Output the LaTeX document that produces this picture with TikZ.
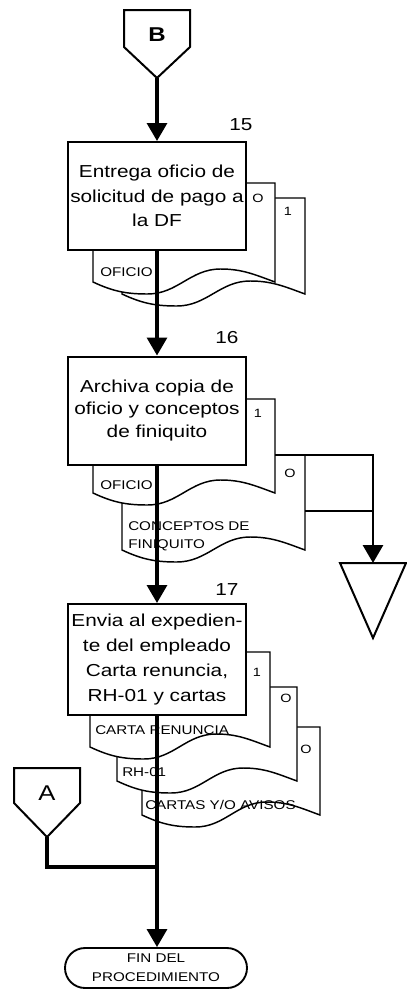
\documentclass[tikz,border=0pt]{standalone}
\usepackage{fontspec}
\setmainfont{Liberation Sans}[FakeStretch=1.2]
\usetikzlibrary{arrows.meta,shapes.misc}

\newcommand\mydoc[4]{% xl, yt, xr, yb (reference pixels, y downwards)
  \pgfmathsetmacro\dw{#3-#1}
  \draw[docline] (#1,-#2) -- (#1,-#4) to[out=-25,in=180] ({#1+0.3*\dw},{-#4-12})
    to[out=0,in=180] ({#1+0.7*\dw},{-#4+13}) to[out=0,in=160] (#3,-#4) -- (#3,-#2) -- cycle;}

\begin{document}
\begin{tikzpicture}[x=0.75pt,y=0.75pt,
  flow/.style={line width=2.4pt,-{Triangle[width=15pt,length=13.5pt]}},
  plain/.style={line width=2.4pt},
  box/.style={draw,line width=1.5pt,fill=white,minimum width=133.5pt,minimum height=81pt,
    align=center,inner sep=0pt,font=\fontsize{13}{18.4}\selectfont},
  docline/.style={draw,line width=1.1pt,fill=white},
  doctext/.style={font=\fontsize{9.5}{13.5}\selectfont,anchor=west,inner sep=0pt,align=left},
  copylab/.style={font=\fontsize{9}{10}\selectfont,inner sep=0pt},
  num/.style={font=\fontsize{13}{15}\selectfont,inner sep=0pt},
  conn/.style={draw,line width=1.5pt,fill=white},
  term/.style={draw,rounded rectangle,line width=1.4pt,minimum width=136.5pt,minimum height=30pt,
    align=center,inner sep=0pt,font=\fontsize{9.5}{14}\selectfont},
  filetri/.style={draw,line width=1.5pt}]
\useasboundingbox (0,0) rectangle (407,-989);

% connector B
\draw[conn] (124,-10) -- (190,-10) -- (190,-47) -- (157,-78) -- (124,-47) -- cycle;
\node[font=\bfseries\fontsize{15}{15}\selectfont] (B) at (157,-35) {B};
\coordinate (Btip) at (157,-78);

% step 15 documents
\mydoc{122}{198}{305}{294}
\node[copylab] (c15b) at (288,-211) {1};
\mydoc{93}{183}{275}{282}
\node[doctext] (d15a) at (100,-272) {OFICIO};
\node[copylab] (c15a) at (258,-198) {O};
\node[box] (s15) at (157,-196) {Entrega oficio de\\solicitud de pago a\\la DF};
\node[num] (n15) at (241,-125) {15};

% step 16 documents
\mydoc{122}{455}{305}{550}
\node[doctext] (d16b) at (128,-536) {CONCEPTOS DE\\FINIQUITO};
\node[copylab] (c16b) at (290,-473) {O};
\mydoc{93}{399}{275}{493}
\node[doctext] (d16a) at (100,-485) {OFICIO};
\node[copylab] (c16a) at (258,-413) {1};
\node[box,font=\fontsize{13}{17.2}\selectfont] (s16) at (157,-410.5) {Archiva copia de\\oficio y conceptos\\de finiquito};
\node[num] (n16) at (227,-338) {16};

% file (archive) symbol
\coordinate (ftop) at (275,-455);
\coordinate (fside) at (305,-511);
\coordinate (archivo) at (373,-563);
\draw[filetri] (340,-563) -- (406,-563) -- (373,-638) -- cycle;
\draw[line width=2.2pt,-{Triangle[width=15pt,length=13.5pt]}] (ftop) -| (archivo);
\draw[line width=1.6pt] (fside) -- (fside -| archivo);

% step 17 documents
\mydoc{142}{727}{320}{815}
\node[doctext] (d17c) at (145,-805) {CARTAS Y/O AVISOS};
\node[copylab] (c17c) at (306,-749) {O};
\mydoc{117}{687}{297}{781}
\node[doctext] (d17b) at (122,-772) {RH-01};
\node[copylab] (c17b) at (286,-698) {O};
\mydoc{90}{652}{270}{747}
\node[doctext] (d17a) at (95,-730) {CARTA RENUNCIA};
\node[copylab] (c17a) at (257,-672) {1};
\node[box,minimum height=83.25pt,font=\fontsize{13}{18.75}\selectfont] (s17) at (157,-659.5) {Envia al expedien-\\te del empleado\\Carta renuncia,\\RH-01 y cartas};
\node[num] (n17) at (227,-590) {17};

% connector A
\draw[conn] (14,-768) -- (80,-768) -- (80,-803) -- (47,-837) -- (14,-803) -- cycle;
\node[font=\fontsize{16}{16}\selectfont] (A) at (47,-793) {A};
\coordinate (Atip) at (47,-837);
\coordinate (join) at (157,-867);

% end
\node[term] (fin) at (156,-968) {FIN DEL\\PROCEDIMIENTO};

% flow lines
\draw[flow] (Btip) -- (s15);
\draw[flow] (s15) -- (s16);
\draw[flow] (s16) -- (s17);
\draw[flow] (s17) -- (s17 |- fin.north);
\draw[plain] (Atip) |- (join);
\end{tikzpicture}
\end{document}
